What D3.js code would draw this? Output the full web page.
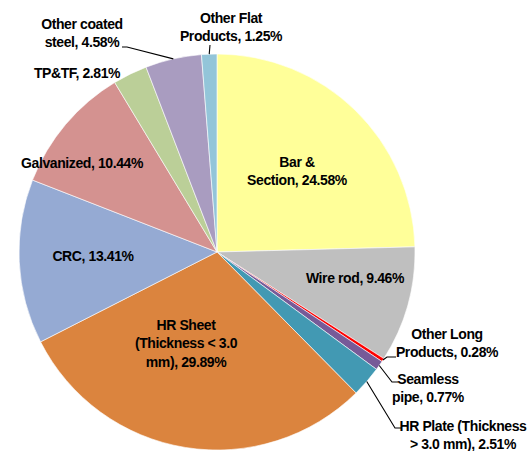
<!DOCTYPE html>
<html><head><meta charset="utf-8">
<script src="https://cdn.jsdelivr.net/npm/d3@7"></script>
<style>
html,body{margin:0;padding:0;background:#fff;}
svg{display:block;}
text{font-family:"Liberation Sans",Arial,sans-serif;font-weight:bold;font-size:14px;fill:#000;letter-spacing:-0.4px;}
</style></head>
<body><svg id="chart" width="532" height="451"></svg>
<script>
// ---- data ----
const categories = ["Bar & Section","Wire rod","Other Long Products","Seamless pipe","HR Plate (Thickness > 3.0 mm)","HR Sheet (Thickness < 3.0 mm)","CRC","Galvanized","TP&TF","Other coated steel","Other Flat Products"];
const shares = [24.58, 9.46, 0.28, 0.77, 2.51, 29.89, 13.41, 10.44, 2.81, 4.58, 1.25];
const labelLines = [
  ["Bar &","Section, 24.58%"],
  ["Wire rod, 9.46%"],
  ["Other Long","Products, 0.28%"],
  ["Seamless","pipe, 0.77%"],
  ["HR Plate (Thickness","> 3.0 mm), 2.51%"],
  ["HR Sheet","(Thickness < 3.0","mm), 29.89%"],
  ["CRC, 13.41%"],
  ["Galvanized, 10.44%"],
  ["TP&TF, 2.81%"],
  ["Other coated","steel, 4.58%"],
  ["Other Flat","Products, 1.25%"]
];
const colors = ["#FFFF99","#BFBFBF","#FF0000","#775A98","#4299B3","#DB843E","#95AAD3","#D49290","#BBCF98","#A99CC0","#93C5D9"];

// ---- layout (label centre offsets from pie centre, leader elbows) ----
const cx = 217, cy = 252, R = 198, lineH = 18.5;
const labelPos = [[80,-81],[138,26],[230,91],[211,136],[246,183],[-31,91],[-124,4],[-135,-89],[-140,-179],[-135,-219],[14,-225]];
const leaders = {
  2: [[170,105],[179,105]],
  3: [[175,130],[181,130]],
  4: [[178,176],[185,176]],
  9: [[-90,-205],[-95,-205]],
  10: [[-7,-207]]
};

const svg = d3.select("#chart");
const g = svg.append("g").attr("transform", `translate(${cx},${cy})`);
const pie = d3.pie().sort(null).value(d => d)(shares);
const arc = d3.arc().innerRadius(0).outerRadius(R);

g.selectAll("path.slice").data(pie).join("path")
  .attr("class","slice")
  .attr("d", arc)
  .attr("fill", (d,i) => colors[i])
  .attr("stroke", "#fff")
  .attr("stroke-width", 0.6);

// leader lines
const line = d3.line();
Object.keys(leaders).forEach(k => {
  const i = +k, d = pie[i];
  const mid = (d.startAngle + d.endAngle) / 2;
  const p0 = d3.pointRadial(mid, R);
  g.append("path")
    .attr("d", line([p0, ...leaders[k]]))
    .attr("fill","none").attr("stroke","#000").attr("stroke-width",1.1);
});

// labels
pie.forEach((d,i) => {
  const [dx,dy] = labelPos[i];
  const lines = labelLines[i];
  const t = g.append("text").attr("text-anchor","middle")
    .attr("x", dx).attr("y", dy - (lines.length-1)*lineH/2 + 5);
  lines.forEach((s,j) => {
    t.append("tspan").attr("x", dx).attr("dy", j === 0 ? 0 : lineH).text(s);
  });
});
</script>
</body></html>
